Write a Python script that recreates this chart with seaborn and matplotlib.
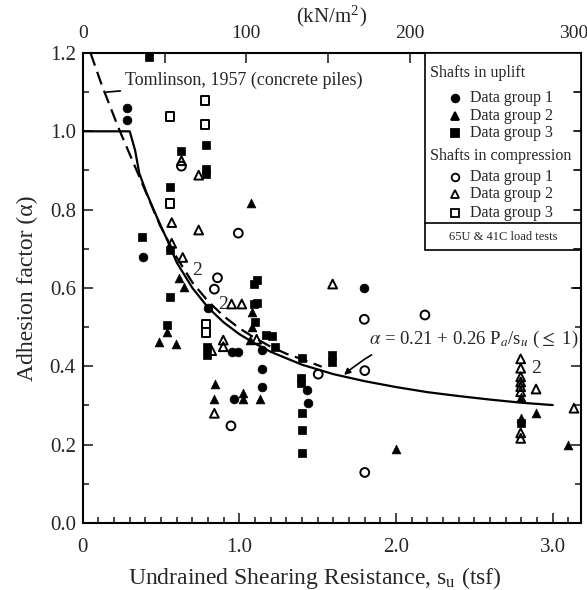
import numpy as np
import pandas as pd
import matplotlib.pyplot as plt
import seaborn as sns
from matplotlib.patches import Rectangle
from matplotlib.lines import Line2D
from matplotlib.ticker import MultipleLocator, FixedLocator

# Style
sns.set_theme(style="ticks")
plt.rcParams['font.family'] = ['Liberation Serif', 'DejaVu Serif']
plt.rcParams['mathtext.fontset'] = 'stix'

# --- data (su in tsf, alpha) ---
# shafts in uplift
up1_su = [0.28, 0.28, 0.383, 0.80, 0.955, 0.99, 1.142, 1.147, 1.147, 0.966, 1.433, 1.44, 1.797]
up1_a = [1.059, 1.029, 0.678, 0.548, 0.437, 0.437, 0.442, 0.393, 0.346, 0.317, 0.34, 0.307, 0.599]

up2_su = [1.072, 0.615, 0.646, 0.54, 0.487, 0.593, 1.08, 1.08, 1.068, 0.844, 0.84, 1.025, 1.025,
          1.13, 2.0, 2.795, 2.795, 2.893, 3.094]
up2_a = [0.816, 0.625, 0.602, 0.488, 0.463, 0.456, 0.539, 0.50, 0.467, 0.355, 0.317, 0.331, 0.317,
         0.317, 0.188, 0.322, 0.268, 0.282, 0.20]

up3_su = [0.425, 0.787, 0.63, 0.787, 0.787, 0.557, 0.376, 0.56, 0.56, 0.54, 1.09, 1.11, 1.09, 1.11,
          1.10, 0.79, 0.79, 1.17, 1.21, 1.227, 1.398, 1.59, 1.59, 1.39, 1.39, 1.40, 1.40, 1.40, 2.795]
up3_a = [1.19, 0.965, 0.95, 0.905, 0.89, 0.859, 0.729, 0.697, 0.576, 0.505, 0.61, 0.62, 0.56, 0.561,
         0.514, 0.45, 0.429, 0.48, 0.477, 0.45, 0.42, 0.43, 0.41, 0.37, 0.357, 0.28, 0.237, 0.178, 0.255]

# shafts in compression
cp1_su = [0.63, 0.993, 0.86, 0.84, 1.503, 1.797, 2.184, 1.80, 1.80, 0.946]
cp1_a = [0.911, 0.74, 0.626, 0.597, 0.38, 0.52, 0.531, 0.389, 0.129, 0.248]

cp2_su = [0.63, 0.74, 0.568, 0.74, 0.568, 0.638, 0.95, 1.015, 0.897, 0.897, 0.823, 0.84, 1.11, 1.595,
          2.795, 2.795, 2.795, 2.795, 2.795, 2.795, 2.893, 2.795, 2.795, 3.135]
cp2_a = [0.925, 0.888, 0.767, 0.748, 0.714, 0.678, 0.559, 0.559, 0.467, 0.45, 0.44, 0.28, 0.469, 0.61,
         0.419, 0.395, 0.373, 0.36, 0.348, 0.335, 0.342, 0.23, 0.216, 0.293]

cp3_su = [0.557, 0.78, 0.78, 0.557, 0.787, 0.787]
cp3_a = [1.037, 1.078, 1.018, 0.816, 0.508, 0.486]

# design curve alpha = 0.21 + 0.26 Pa/su (<= 1)
curve_su = [0, 0.30, 0.334, 0.361, 0.408, 0.472, 0.54, 0.6, 0.7, 0.8, 0.9, 1.0, 1.1, 1.2,
            1.4, 1.6, 1.8, 2.0, 2.2, 2.4, 2.6, 2.8, 3.0]
curve_a = [1.0, 1.0, 0.952, 0.893, 0.842, 0.782, 0.722, 0.665, 0.600, 0.550, 0.512, 0.482, 0.458,
           0.437, 0.404, 0.380, 0.362, 0.347, 0.334, 0.324, 0.315, 0.307, 0.301]

# Tomlinson 1957 (concrete piles)
tom_su = [0.05, 0.12, 0.227, 0.355, 0.493, 0.6, 0.7, 0.8, 0.9, 1.0, 1.1, 1.2, 1.3, 1.4, 1.525]
tom_a = [1.2, 1.12, 1.01, 0.89, 0.76, 0.678, 0.614, 0.566, 0.528, 0.497, 0.472, 0.45, 0.432, 0.418, 0.399]

groups = [
    ('up1', up1_su, up1_a, 'o', True),
    ('up2', up2_su, up2_a, '^', True),
    ('up3', up3_su, up3_a, 's', True),
    ('cp1', cp1_su, cp1_a, 'o', False),
    ('cp2', cp2_su, cp2_a, '^', False),
    ('cp3', cp3_su, cp3_a, 's', False),
]

TSF_TO_KPA = 95.76

fig = plt.figure(figsize=(5.87, 5.90), dpi=100)
ax = fig.add_axes([0.1409, 0.1136, 0.8489, 0.7966])

# curves
sns.lineplot(x=curve_su, y=curve_a, color='black', linewidth=1.6, sort=False,
             estimator=None, ax=ax, zorder=2)
sns.lineplot(x=tom_su, y=tom_a, color='black', linewidth=1.6, sort=False,
             estimator=None, ax=ax, zorder=2, linestyle=(0, (6, 3)))

# points
for name, xs, ys, m, filled in groups:
    df = pd.DataFrame({'su': xs, 'alpha': ys})
    if filled:
        sns.scatterplot(data=df, x='su', y='alpha', marker=m, s=40, color='black',
                        edgecolor='black', linewidth=0.5, ax=ax, zorder=3, legend=False)
    else:
        sns.scatterplot(data=df, x='su', y='alpha', marker=m, s=40, color='black',
                        facecolor='none', edgecolor='black', linewidth=1.4, ax=ax,
                        zorder=3, legend=False)

# "2" overlap labels
for tx, ty in [(0.70, 0.645), (0.862, 0.558), (2.86, 0.395)]:
    ax.text(tx, ty, '2', fontsize=14, ha='left', va='center', zorder=4)

# annotations
ax.annotate('Tomlinson, 1957 (concrete piles)', xy=(0.15, 1.1), xytext=(0.27, 1.131),
            fontsize=13, va='center', ha='left',
            arrowprops=dict(arrowstyle='-', color='black', lw=1.2, shrinkA=1, shrinkB=0))
ax.annotate(r'$\alpha$ = 0.21 + 0.26 P$_a$/s$_u$ ($\leq$ 1)', xy=(1.668, 0.378),
            xytext=(1.83, 0.468), fontsize=13.5, va='center', ha='left',
            arrowprops=dict(arrowstyle='-|>', color='black', lw=1.2, mutation_scale=9,
                            shrinkA=2, shrinkB=0, connectionstyle='arc3,rad=0.25'))

# axes
ax.set_xlim(0, 3.18)
ax.set_ylim(0, 1.2)
ax.xaxis.set_major_locator(FixedLocator([0, 1.0, 2.0, 3.0]))
ax.set_xticklabels(['0', '1.0', '2.0', '3.0'])
ax.xaxis.set_minor_locator(MultipleLocator(0.1))
ax.yaxis.set_major_locator(MultipleLocator(0.2))
ax.yaxis.set_minor_locator(MultipleLocator(0.1))
ax.yaxis.set_major_formatter(plt.FuncFormatter(lambda v, p: f'{v:.1f}'))
ax.tick_params(which='both', direction='in', right=True, top=False, width=1.2, labelsize=15)
ax.tick_params(axis='x', pad=11)
ax.tick_params(axis='y', pad=5)
ax.tick_params(which='major', length=7)
ax.tick_params(which='minor', length=4)
for sp in ax.spines.values():
    sp.set_linewidth(1.5)
    sp.set_color('black')
ax.set_xlabel(r'Undrained Shearing Resistance, s$_\mathregular{u}$ (tsf)', fontsize=17)
ax.xaxis.set_label_coords(0.465, -0.09)
ax.set_ylabel('Adhesion factor (α)', fontsize=17, labelpad=8)

top = ax.secondary_xaxis('top', functions=(lambda t: t * TSF_TO_KPA, lambda k: k / TSF_TO_KPA))
top.xaxis.set_major_locator(FixedLocator([0, 100, 200, 300]))
top.xaxis.set_minor_locator(FixedLocator([50, 150, 250]))
top.tick_params(which='both', direction='in', width=1.2, labelsize=14, pad=8)
top.tick_params(which='major', length=7)
top.tick_params(which='minor', length=7)
top.set_xlabel(r'(kN/m$^\mathregular{2}$)', fontsize=15, labelpad=2)

# legend box (drawn by hand)
bx0 = 0.687
ax.add_patch(Rectangle((bx0, 0.581), 1 - bx0, 0.419, transform=ax.transAxes, fill=True,
                       facecolor='white', edgecolor='black', lw=1.2, zorder=5))
ax.plot([bx0, 1], [0.638, 0.638], transform=ax.transAxes, color='black', lw=1.2, zorder=6)
ax.text(0.697, 0.957, 'Shafts in uplift', transform=ax.transAxes, fontsize=11.5,
        va='center', ha='left', zorder=6)
ax.text(0.697, 0.781, 'Shafts in compression', transform=ax.transAxes, fontsize=11.5,
        va='center', ha='left', zorder=6)
key_rows = [(0.904, 'o', True), (0.866, '^', True), (0.830, 's', True),
            (0.736, 'o', False), (0.700, '^', False), (0.660, 's', False)]
for i, (ky, m, filled) in enumerate(key_rows):
    ax.add_line(Line2D([0.747], [ky], transform=ax.transAxes, marker=m, markersize=5.5,
                       markerfacecolor='black' if filled else 'white',
                       markeredgecolor='black', markeredgewidth=1.3, linestyle='none', zorder=6))
    ax.text(0.778, ky, f'Data group {i % 3 + 1}', transform=ax.transAxes, fontsize=11.5,
            va='center', ha='left', zorder=6)
ax.text((bx0 + 1) / 2, 0.609, '65U & 41C load tests', transform=ax.transAxes, fontsize=9,
        va='center', ha='center', zorder=6)
# right-side ticks drawn over the legend box
for yy in np.arange(0.6, 1.2, 0.1):
    ax.plot([3.18 - 0.045, 3.18], [yy, yy], color='black', lw=1.2, zorder=7, clip_on=False)

fig.savefig('out.png', dpi=100)
